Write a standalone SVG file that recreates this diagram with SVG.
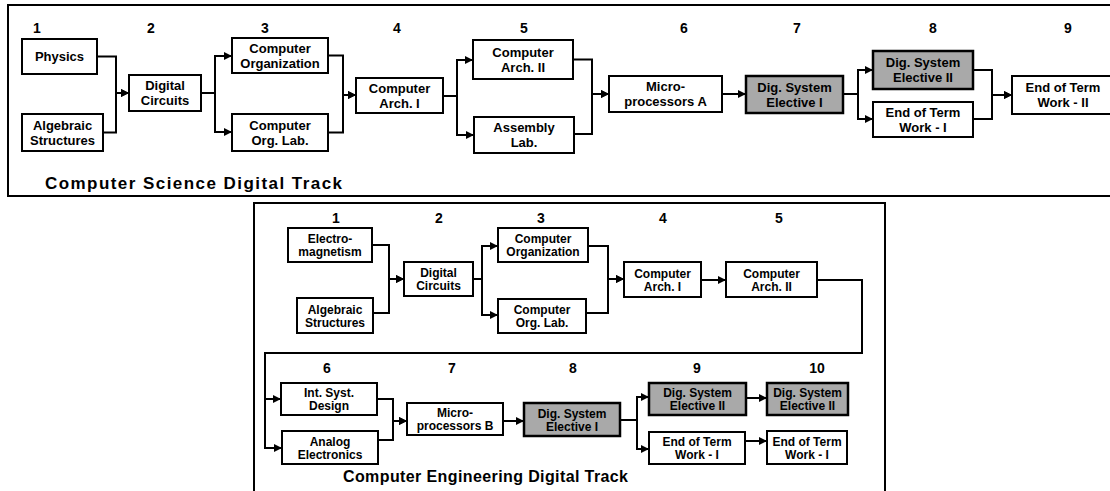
<svg xmlns="http://www.w3.org/2000/svg" width="1110" height="491" viewBox="0 0 1110 491">
<style>
.frame{fill:none;stroke:#000;stroke-width:2}
.box{fill:#fff;stroke:#000;stroke-width:2}
.gbox{fill:#a9a9a9;stroke:#000;stroke-width:2.5}
.t{font-family:"Liberation Sans",Arial,sans-serif;font-weight:bold;font-size:13px;fill:#000;text-anchor:middle}
.s{font-family:"Liberation Sans",Arial,sans-serif;font-weight:bold;font-size:12px;fill:#000;text-anchor:middle}
.n{font-family:"Liberation Sans",Arial,sans-serif;font-weight:bold;font-size:14px;fill:#000;text-anchor:middle}
.cap{font-family:"Liberation Sans",Arial,sans-serif;font-weight:bold;fill:#000}
.c{fill:none;stroke:#000;stroke-width:2;marker-end:url(#ah)}
.l{fill:none;stroke:#000;stroke-width:2}
</style>
<defs>
<marker id="ah" markerUnits="userSpaceOnUse" markerWidth="9" markerHeight="8" refX="8" refY="4" orient="auto">
<path d="M0,0 L8,4 L0,8 z" fill="#000"/>
</marker>
</defs>
<rect width="1110" height="491" fill="#fff"/>

<!-- Top frame -->
<g id="top-frame">
<rect class="frame" x="8" y="5" width="1110" height="191"/>
<text class="cap" x="45" y="189" font-size="17" textLength="297" lengthAdjust="spacing">Computer Science Digital Track</text>
<text class="n" x="37" y="33">1</text>
<text class="n" x="151" y="33">2</text>
<text class="n" x="265" y="33">3</text>
<text class="n" x="397" y="33">4</text>
<text class="n" x="524" y="33">5</text>
<text class="n" x="684" y="33">6</text>
<text class="n" x="797" y="33">7</text>
<text class="n" x="933" y="33">8</text>
<text class="n" x="1068" y="33">9</text>
</g>

<g id="top-connectors">
<path class="c" d="M97,56.5 H116 V93 H129"/>
<path class="c" d="M103,132.5 H116 V93 H129"/>
<path class="c" d="M201,93 H215 V56 H232"/>
<path class="c" d="M201,93 H215 V132 H232"/>
<path class="c" d="M328,55.5 H343 V95 H356"/>
<path class="c" d="M328,132.5 H343 V95 H356"/>
<path class="c" d="M443,96 H457 V60 H473"/>
<path class="c" d="M443,96 H457 V135 H474"/>
<path class="c" d="M573,59.5 H592 V94 H609"/>
<path class="c" d="M574,134 H592 V94 H609"/>
<path class="c" d="M722,94 H746"/>
<path class="c" d="M843,94 H858 V70 H873"/>
<path class="c" d="M843,94 H858 V119 H873"/>
<path class="c" d="M973,70 H992 V95 H1012"/>
<path class="c" d="M973,119 H992 V95 H1012"/>
</g>

<g id="t-physics"><rect class="box" x="22" y="39" width="75" height="35"/><text class="t" x="59.5" y="61">Physics</text></g>
<g id="t-algebraic"><rect class="box" x="22" y="114" width="81" height="37"/><text class="t" x="62.5" y="129.5">Algebraic</text><text class="t" x="62.5" y="144.5">Structures</text></g>
<g id="t-digital"><rect class="box" x="129" y="75" width="72" height="36"/><text class="t" x="165" y="90">Digital</text><text class="t" x="165" y="105">Circuits</text></g>
<g id="t-co"><rect class="box" x="232" y="38" width="96" height="35"/><text class="t" x="280" y="52.5">Computer</text><text class="t" x="280" y="67.5">Organization</text></g>
<g id="t-col"><rect class="box" x="232" y="114" width="96" height="37"/><text class="t" x="280" y="129.5">Computer</text><text class="t" x="280" y="144.5">Org. Lab.</text></g>
<g id="t-ca1"><rect class="box" x="356" y="78" width="87" height="35"/><text class="t" x="399.5" y="92.5">Computer</text><text class="t" x="399.5" y="107.5">Arch. I</text></g>
<g id="t-ca2"><rect class="box" x="473" y="40" width="100" height="39"/><text class="t" x="523" y="56.5">Computer</text><text class="t" x="523" y="71.5">Arch. II</text></g>
<g id="t-al"><rect class="box" x="474" y="117" width="100" height="36"/><text class="t" x="524" y="132">Assembly</text><text class="t" x="524" y="147">Lab.</text></g>
<g id="t-mpa"><rect class="box" x="609" y="76" width="113" height="36"/><text class="t" x="665.5" y="91">Micro-</text><text class="t" x="665.5" y="106">processors A</text></g>
<g id="t-dse1"><rect class="gbox" x="746" y="76" width="97" height="37"/><text class="t" x="794.5" y="91.5">Dig. System</text><text class="t" x="794.5" y="106.5">Elective I</text></g>
<g id="t-dse2"><rect class="gbox" x="873" y="51" width="100" height="38"/><text class="t" x="923" y="67">Dig. System</text><text class="t" x="923" y="82">Elective II</text></g>
<g id="t-eot1"><rect class="box" x="873" y="102" width="100" height="35"/><text class="t" x="923" y="116.5">End of Term</text><text class="t" x="923" y="131.5">Work - I</text></g>
<g id="t-eot2"><rect class="box" x="1012" y="76" width="102" height="38"/><text class="t" x="1063" y="92">End of Term</text><text class="t" x="1063" y="107">Work - II</text></g>

<!-- Bottom frame -->
<g id="bottom-frame">
<rect class="frame" x="254" y="203" width="631" height="300"/>
<text class="cap" x="343" y="482" font-size="16" textLength="285" lengthAdjust="spacing">Computer Engineering Digital Track</text>
<text class="n" x="336" y="223" font-size="13">1</text>
<text class="n" x="439" y="223" font-size="13">2</text>
<text class="n" x="541" y="223" font-size="13">3</text>
<text class="n" x="663" y="223" font-size="13">4</text>
<text class="n" x="779" y="223" font-size="13">5</text>
<text class="n" x="327" y="373" font-size="13">6</text>
<text class="n" x="452" y="373" font-size="13">7</text>
<text class="n" x="573" y="373" font-size="13">8</text>
<text class="n" x="697" y="373" font-size="13">9</text>
<text class="n" x="817" y="373" font-size="13">10</text>
</g>

<g id="bottom-connectors">
<path class="c" d="M372,245 H389 V279 H404"/>
<path class="c" d="M373,313 H389 V279 H404"/>
<path class="c" d="M473,279 H482 V246 H498"/>
<path class="c" d="M473,279 H482 V315 H498"/>
<path class="c" d="M588,246 H608 V279 H624"/>
<path class="c" d="M586,313 H608 V279 H624"/>
<path class="c" d="M701,280 H726"/>
<path class="c" d="M817,280 H862 V353 H265 V399 H281"/>
<path class="c" d="M265,398 V448 H282"/>
<path class="c" d="M377,399 H393 V421 H407"/>
<path class="c" d="M378,440 H393 V421 H407"/>
<path class="c" d="M503,421 H524"/>
<path class="c" d="M620,420 H637 V397 H649"/>
<path class="c" d="M620,420 H637 V449 H649"/>
<path class="c" d="M746,398 H767"/>
<path class="c" d="M745,441 H767"/>
</g>

<g id="b-em"><rect class="box" x="288" y="228" width="84" height="34"/><text class="s" x="330" y="243">Electro-</text><text class="s" x="330" y="256">magnetism</text></g>
<g id="b-as"><rect class="box" x="297" y="298" width="76" height="35"/><text class="s" x="335" y="313.5">Algebraic</text><text class="s" x="335" y="326.5">Structures</text></g>
<g id="b-dc"><rect class="box" x="404" y="262" width="69" height="34"/><text class="s" x="438.5" y="277">Digital</text><text class="s" x="438.5" y="290">Circuits</text></g>
<g id="b-co"><rect class="box" x="498" y="228" width="90" height="34"/><text class="s" x="543" y="243">Computer</text><text class="s" x="543" y="256">Organization</text></g>
<g id="b-col"><rect class="box" x="498" y="299" width="88" height="34"/><text class="s" x="542" y="314">Computer</text><text class="s" x="542" y="327">Org. Lab.</text></g>
<g id="b-ca1"><rect class="box" x="624" y="262" width="77" height="35"/><text class="s" x="662.5" y="277.5">Computer</text><text class="s" x="662.5" y="290.5">Arch. I</text></g>
<g id="b-ca2"><rect class="box" x="726" y="262" width="91" height="35"/><text class="s" x="771.5" y="277.5">Computer</text><text class="s" x="771.5" y="290.5">Arch. II</text></g>
<g id="b-isd"><rect class="box" x="281" y="383" width="96" height="32"/><text class="s" x="329" y="397">Int. Syst.</text><text class="s" x="329" y="410">Design</text></g>
<g id="b-ae"><rect class="box" x="282" y="431" width="96" height="33"/><text class="s" x="330" y="445.5">Analog</text><text class="s" x="330" y="458.5">Electronics</text></g>
<g id="b-mpb"><rect class="box" x="407" y="403" width="96" height="32"/><text class="s" x="455" y="417">Micro-</text><text class="s" x="455" y="430">processors B</text></g>
<g id="b-dse1"><rect class="gbox" x="524" y="403" width="96" height="33"/><text class="s" x="572" y="417.5">Dig. System</text><text class="s" x="572" y="430.5">Elective I</text></g>
<g id="b-dse2"><rect class="gbox" x="649" y="383" width="97" height="32"/><text class="s" x="697.5" y="397">Dig. System</text><text class="s" x="697.5" y="410">Elective II</text></g>
<g id="b-eot1"><rect class="box" x="649" y="432" width="96" height="32"/><text class="s" x="697" y="446">End of Term</text><text class="s" x="697" y="459">Work - I</text></g>
<g id="b-dse3"><rect class="gbox" x="767" y="383" width="81" height="32"/><text class="s" x="807.5" y="397">Dig. System</text><text class="s" x="807.5" y="410">Elective II</text></g>
<g id="b-eot2"><rect class="box" x="767" y="431" width="80" height="33"/><text class="s" x="807" y="445.5">End of Term</text><text class="s" x="807" y="458.5">Work - I</text></g>
</svg>
